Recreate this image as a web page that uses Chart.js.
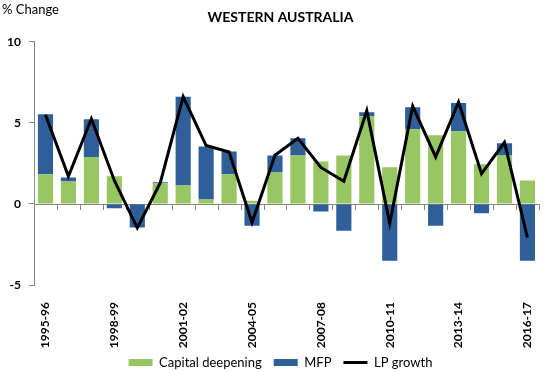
<!DOCTYPE html>
<html><head><meta charset="utf-8">
<script src="https://cdn.jsdelivr.net/npm/chart.js@4/dist/chart.umd.min.js"></script>
<style>html,body{margin:0;padding:0;background:#fff;}#wrap{width:551px;height:371px;}</style>
</head><body><div id="wrap"><canvas id="c" width="551" height="371"></canvas></div>
<script>
const categories = ['1995-96','1996-97','1997-98','1998-99','1999-00','2000-01','2001-02','2002-03','2003-04','2004-05','2005-06','2006-07','2007-08','2008-09','2009-10','2010-11','2011-12','2012-13','2013-14','2014-15','2015-16','2016-17'];
const capitalDeepening = [1.83,1.38,2.89,1.71,0.0,1.28,1.13,0.27,1.83,0.2,1.94,2.99,2.62,2.99,5.41,2.27,4.61,4.23,4.48,2.44,2.99,1.44];
const mfp = [3.70,0.25,2.34,-0.27,-1.45,0.06,5.48,3.28,1.41,-1.34,1.05,1.06,-0.46,-1.65,0.25,-3.5,1.36,-1.34,1.74,-0.58,0.75,-3.5];
const lpGrowth = [5.5,1.7,5.25,1.45,-1.48,1.3,6.62,3.6,3.2,-1.15,3.0,4.05,2.25,1.4,5.75,-1.2,6.03,2.9,6.28,1.86,3.8,-2.07];
const yTicks = [-5,0,5,10];
const tickLabelEvery = 3;

const AXIS = '#868686';
const FONT = 'Lato, Carlito, "Liberation Sans", sans-serif';

const zeroLine = {
  id: 'zeroLine',
  beforeDatasetsDraw(chart) {
    const {ctx, chartArea, scales} = chart;
    const y0 = scales.y.getPixelForValue(0);
    ctx.save();
    ctx.strokeStyle = AXIS;
    ctx.lineWidth = 1;
    ctx.beginPath();
    ctx.moveTo(chartArea.left, Math.round(y0) + 0.5);
    ctx.lineTo(chartArea.right, Math.round(y0) + 0.5);
    const n = categories.length;
    const half = (scales.x.getPixelForValue(1) - scales.x.getPixelForValue(0)) / 2;
    for (let i = 0; i <= n; i++) {
      const a = scales.x.getPixelForValue(Math.min(i, n - 1));
      const xp = i < n ? a - half : a + half;
      ctx.moveTo(Math.round(xp) + 0.5, Math.round(y0));
      ctx.lineTo(Math.round(xp) + 0.5, Math.round(y0) + 6);
    }
    ctx.stroke();
    ctx.restore();
  }
};
const corner = {
  id: 'corner',
  afterDraw(chart) {
    const ctx = chart.ctx;
    ctx.save();
    ctx.font = '13px ' + FONT;
    ctx.fillStyle = '#000';
    ctx.textBaseline = 'top';
    ctx.textAlign = 'left';
    ctx.fillText('% Change', 2, 3);
    ctx.restore();
  }
};

new Chart(document.getElementById('c'), {
  data: {
    labels: categories,
    datasets: [
      {type: 'bar', label: 'Capital deepening', data: capitalDeepening, backgroundColor: '#97C663', borderWidth: 0, stack: 's', order: 1, barPercentage: 0.66, categoryPercentage: 1},
      {type: 'bar', label: 'MFP', data: mfp, backgroundColor: '#2F5F98', borderWidth: 0, stack: 's', order: 1, barPercentage: 0.66, categoryPercentage: 1},
      {type: 'line', label: 'LP growth', data: lpGrowth, borderColor: '#000', backgroundColor: '#000', borderWidth: 3, pointRadius: 0, pointHoverRadius: 0, tension: 0, stack: 'line', order: 0, fill: false}
    ]
  },
  plugins: [zeroLine, corner],
  options: {
    responsive: false,
    animation: false,
    devicePixelRatio: 1,
    layout: {padding: {left: 17, right: 7, top: 0, bottom: -8}},
    scales: {
      x: {
        stacked: true,
        grid: {display: false},
        border: {display: false},
        ticks: {
          autoSkip: false, maxRotation: 90, minRotation: 90, padding: 9,
          color: '#000', font: {family: FONT, size: 12, weight: 'bold'},
          callback: (v, i) => (i % tickLabelEvery === 0 ? categories[i] : '')
        },
        afterFit(s) { s.height = 59; s._computeLabelArea = () => undefined; }
      },
      y: {
        stacked: true,
        min: yTicks[0], max: yTicks[yTicks.length - 1],
        afterBuildTicks(s) { s.ticks = yTicks.map(v => ({value: v})); },
        grid: {drawOnChartArea: false, drawTicks: true, tickLength: 5, color: AXIS},
        border: {display: true, color: AXIS},
        ticks: {color: '#000', padding: 8, font: {family: FONT, size: 12, weight: 'bold'}},
        afterFit(s) { s.width = 17; s._computeLabelArea = () => undefined; }
      }
    },
    plugins: {
      tooltip: {enabled: false},
      title: {display: true, text: 'WESTERN AUSTRALIA', color: '#000', font: {family: FONT, size: 14, weight: 'bold'}, padding: {top: 9, bottom: 16}},
      legend: {
        position: 'bottom',
        labels: {
          color: '#000', font: {family: FONT, size: 13},
          usePointStyle: true, pointStyleWidth: 24, boxWidth: 24, boxHeight: 7, padding: 12,
          sort: (a, b) => a.datasetIndex - b.datasetIndex,
          generateLabels(chart) {
            const items = Chart.defaults.plugins.legend.labels.generateLabels(chart);
            items.forEach(it => {
              const ds = chart.data.datasets[it.datasetIndex];
              if (ds.type === 'line') { it.pointStyle = 'line'; it.strokeStyle = '#000'; it.fillStyle = '#000'; it.lineWidth = 3; }
              else { it.pointStyle = 'rect'; it.lineWidth = 0; it.fillStyle = ds.backgroundColor; it.strokeStyle = ds.backgroundColor; }
            });
            return items;
          }
        }
      }
    }
  }
});
</script>
</body></html>
